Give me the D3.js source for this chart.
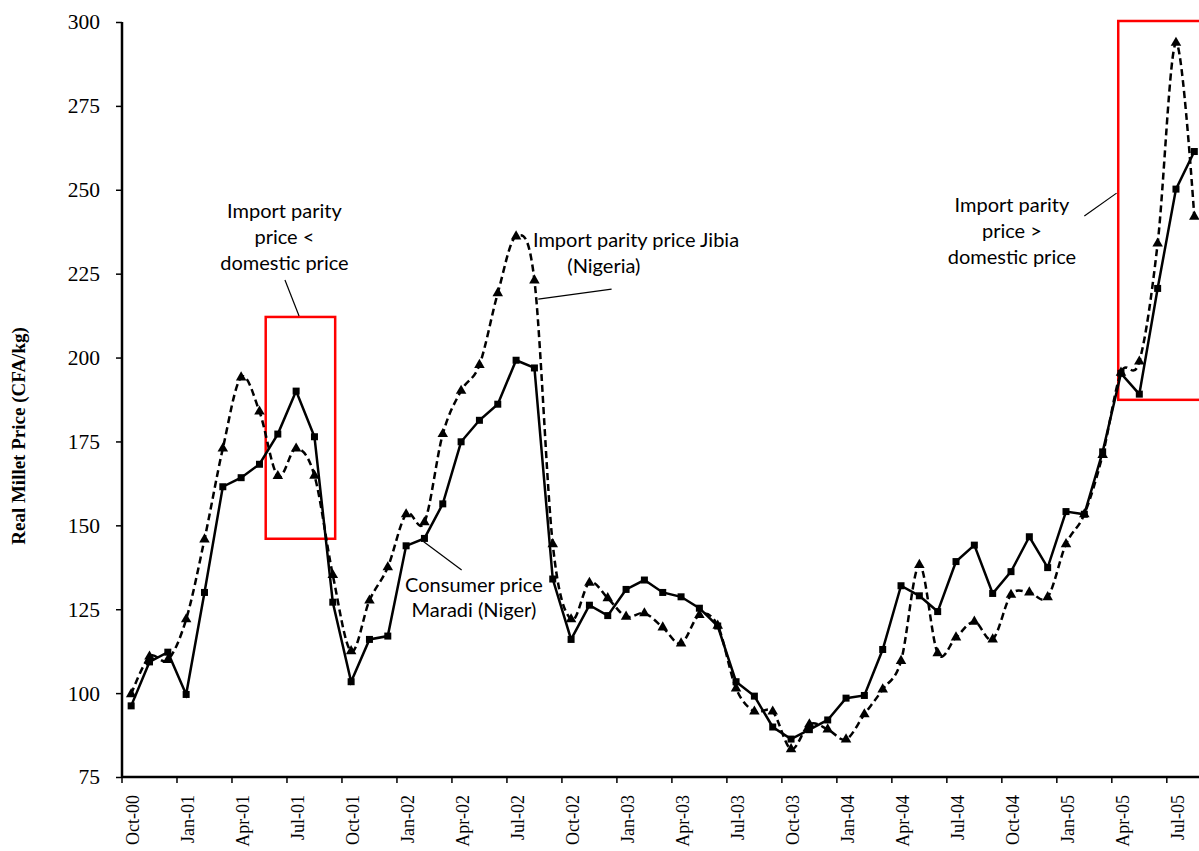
<!DOCTYPE html>
<html>
<head>
<meta charset="utf-8">
<script src="https://cdn.jsdelivr.net/npm/d3@7"></script>
<style>
  html, body { margin: 0; padding: 0; background: #fff; }
  svg { display: block; }
</style>
</head>
<body>
<svg id="chart" width="1199" height="851"></svg>
<script>
// ---------------- DATA ----------------
const months = ["Oct-00","Nov-00","Dec-00","Jan-01","Feb-01","Mar-01","Apr-01","May-01","Jun-01","Jul-01","Aug-01","Sep-01",
  "Oct-01","Nov-01","Dec-01","Jan-02","Feb-02","Mar-02","Apr-02","May-02","Jun-02","Jul-02","Aug-02","Sep-02",
  "Oct-02","Nov-02","Dec-02","Jan-03","Feb-03","Mar-03","Apr-03","May-03","Jun-03","Jul-03","Aug-03","Sep-03",
  "Oct-03","Nov-03","Dec-03","Jan-04","Feb-04","Mar-04","Apr-04","May-04","Jun-04","Jul-04","Aug-04","Sep-04",
  "Oct-04","Nov-04","Dec-04","Jan-05","Feb-05","Mar-05","Apr-05","May-05","Jun-05","Jul-05","Aug-05"];

// Consumer price Maradi (Niger) - solid line, square markers
const consumerMaradi = [96.2,109.3,112.2,99.6,130,161.5,164.2,168.2,177.2,190,176.4,127.1,
  103.4,116,117,143.9,146.1,156.4,174.9,181.3,186.1,199.2,196.9,134,
  116,126.2,123.1,130.9,133.7,130,128.7,125.3,120,103.4,99.1,89.9,
  86.3,89.1,92,98.5,99.3,113,132,129,124.3,139.2,144.1,129.7,
  136.2,146.6,137.4,154.1,153.3,171.9,195.3,189.1,220.6,250.2,261.4];

// Import parity price Jibia (Nigeria) - dashed smoothed line, triangle markers
const importJibia = [99.7,110.9,109.9,122,145.8,172.9,194.1,183.9,164.7,172.9,164.8,135.2,
  112.5,127.6,137.5,153.3,150.9,177.2,190.1,197.8,219.2,236.1,223,144.4,
  122,132.9,128.3,122.8,123.8,119.6,114.8,123.3,120.1,101.4,94.5,94.5,
  83.3,90.7,89.2,86.2,93.7,101.1,109.6,138.2,111.9,116.6,121.3,116,
  129.3,130,128.6,144.4,153.3,171,195.5,198.8,234,293.8,242];

const yTicks = [75,100,125,150,175,200,225,250,275,300];
const xTickLabels = months.filter((m, i) => i % 3 === 0);
const yTitle = "Real Millet Price (CFA/kg)";

// Annotations (in data coordinates: month index, value)
const boxes = [
  {i0: 7.34, i1: 11.13, v0: 146.0, v1: 212.1},
  {i0: 53.85, i1: 60.5, v0: 187.4, v1: 300.3}
];
const leaders = [
  {i0: 8.39, v0: 223.1, i1: 9.16, v1: 212.4},
  {i0: 26.21, v0: 220.4, i1: 22.21, v1: 217.4},
  {i0: 15.96, v0: 145.1, i1: 18.03, v1: 136.7},
  {i0: 52.0, v0: 242.2, i1: 53.76, v1: 249.0}
];
const notes = [
  {text: "Import parity", i: 8.36, v: 241.6, anchor: "middle"},
  {text: "price <", i: 8.36, v: 233.8, anchor: "middle"},
  {text: "domestic price", i: 8.36, v: 226.1, anchor: "middle"},
  {text: "Import parity price Jibia", i: 21.92, v: 232.95, anchor: "start"},
  {text: "(Nigeria)", i: 25.79, v: 225.2, anchor: "middle"},
  {text: "Consumer price", i: 18.70, v: 130.1, anchor: "middle"},
  {text: "Maradi (Niger)", i: 18.70, v: 122.7, anchor: "middle"},
  {text: "Import parity", i: 48.05, v: 243.4, anchor: "middle"},
  {text: "price >", i: 48.05, v: 235.6, anchor: "middle"},
  {text: "domestic price", i: 48.05, v: 227.9, anchor: "middle"}
];

// ---------------- LAYOUT ----------------
const svg = d3.select("#chart");
const mLeft = 122, mTop = 22, mBottom = 777;
const bandW = 18.33;
const mRight = mLeft + bandW * months.length;

const x = d3.scaleBand().domain(months).range([mLeft, mRight]).paddingInner(0).paddingOuter(0);
const xc = d => x(d) + x.bandwidth() / 2;
const xi = i => mLeft + (i + 0.5) * x.bandwidth();
const y = d3.scaleLinear().domain([75, 300]).range([mBottom, mTop]);

const serif = "'Liberation Serif', 'Times New Roman', serif";
const sans = "Lato, 'Open Sans', sans-serif";

// Red annotation boxes
svg.append("g").selectAll("rect").data(boxes).join("rect")
  .attr("x", d => xi(d.i0)).attr("y", d => y(d.v1))
  .attr("width", d => xi(d.i1) - xi(d.i0)).attr("height", d => y(d.v0) - y(d.v1))
  .attr("fill", "none").attr("stroke", "#ff0000").attr("stroke-width", 2.5);

// Y axis
const yAxis = svg.append("g").attr("transform", `translate(${mLeft},0)`)
  .call(d3.axisLeft(y).tickValues(yTicks).tickSize(6).tickPadding(16).tickFormat(d3.format("d")));
yAxis.select(".domain").attr("stroke", "#000").attr("stroke-width", 2.5).attr("d", `M0,${mTop}V${mBottom}`);
yAxis.selectAll(".tick line").attr("stroke", "#000").attr("stroke-width", 1.5);
yAxis.selectAll(".tick text").attr("font-family", serif).attr("font-size", 21.5).attr("fill", "#000");

// X axis
const xAxis = svg.append("g").attr("transform", `translate(0,${mBottom})`);
xAxis.append("line").attr("x1", mLeft).attr("x2", 1199).attr("y1", 0).attr("y2", 0)
  .attr("stroke", "#000").attr("stroke-width", 2.5);
xAxis.selectAll("line.tk").data(xTickLabels).join("line").attr("class", "tk")
  .attr("x1", d => x(d)).attr("x2", d => x(d)).attr("y1", 0).attr("y2", 6)
  .attr("stroke", "#000").attr("stroke-width", 1.5);
xAxis.selectAll("text").data(xTickLabels).join("text")
  .attr("transform", d => `translate(${xc(d) + 2},18) rotate(-90)`)
  .attr("dy", "0.35em")
  .attr("text-anchor", "end")
  .attr("font-family", serif).attr("font-size", 18).attr("fill", "#000")
  .text(d => d);

// Y title
svg.append("text")
  .attr("transform", `translate(18,436) rotate(-90)`)
  .attr("dy", "0.35em")
  .attr("text-anchor", "middle")
  .attr("font-family", serif).attr("font-size", 19).attr("font-weight", "bold")
  .text(yTitle);

// Series: import parity (dashed, smoothed)
const lineSmooth = d3.line().x((d, i) => xc(months[i])).y(d => y(d)).curve(d3.curveCardinal.tension(0));
svg.append("path").datum(importJibia)
  .attr("d", lineSmooth).attr("fill", "none").attr("stroke", "#000")
  .attr("stroke-width", 2.5).attr("stroke-dasharray", "7,4");
const tri = d3.symbol().type(d3.symbolTriangle).size(48);
svg.append("g").selectAll("path").data(importJibia).join("path")
  .attr("d", tri)
  .attr("transform", (d, i) => `translate(${xc(months[i])},${y(d)})`)
  .attr("fill", "#000");

// Series: consumer price (solid)
const lineStraight = d3.line().x((d, i) => xc(months[i])).y(d => y(d));
svg.append("path").datum(consumerMaradi)
  .attr("d", lineStraight).attr("fill", "none").attr("stroke", "#000")
  .attr("stroke-width", 2.5);
svg.append("g").selectAll("rect").data(consumerMaradi).join("rect")
  .attr("x", (d, i) => xc(months[i]) - 3.5).attr("y", d => y(d) - 3.5)
  .attr("width", 7).attr("height", 7).attr("fill", "#000");

// Leader lines
svg.append("g").selectAll("line").data(leaders).join("line")
  .attr("x1", d => xi(d.i0)).attr("y1", d => y(d.v0))
  .attr("x2", d => xi(d.i1)).attr("y2", d => y(d.v1))
  .attr("stroke", "#000").attr("stroke-width", 1.2);

// Notes
svg.append("g").selectAll("text").data(notes).join("text")
  .attr("x", d => xi(d.i)).attr("y", d => y(d.v))
  .attr("text-anchor", d => d.anchor)
  .attr("font-family", sans).attr("font-size", 20).attr("fill", "#000")
  .text(d => d.text);
</script>
</body>
</html>
